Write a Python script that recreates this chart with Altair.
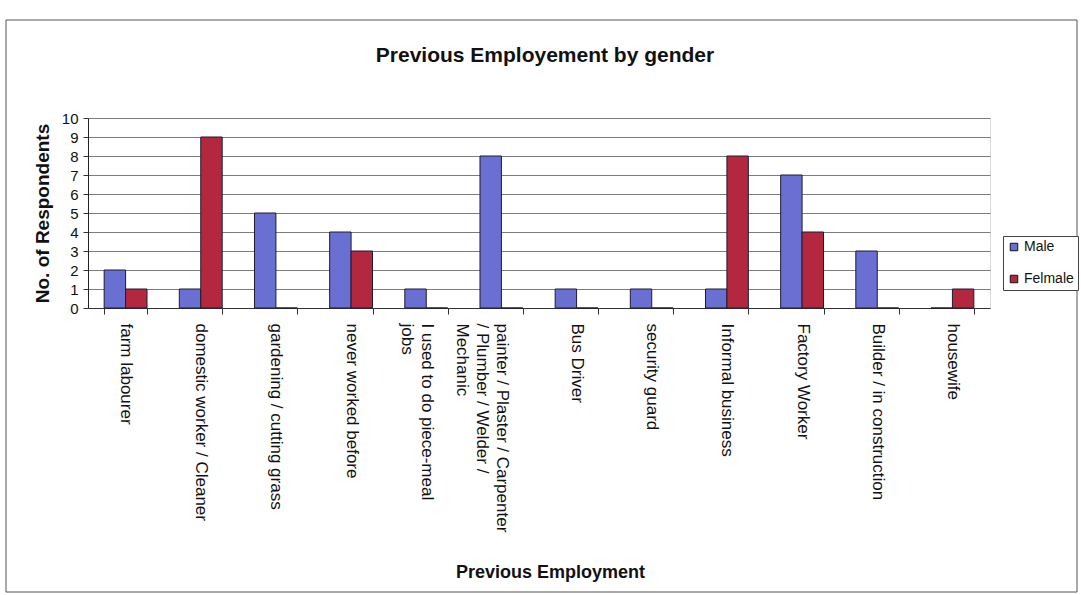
import altair as alt
import pandas as pd

categories = [
    "farm labourer",
    "domestic worker / Cleaner",
    "gardening / cutting grass",
    "never worked before",
    "I used to do piece-meal|jobs",
    "painter / Plaster / Carpenter|/ Plumber / Welder /|Mechanic",
    "Bus Driver",
    "security guard",
    "Informal business",
    "Factory Worker",
    "Builder / in construction",
    "housewife",
]
series = ["Male", "Felmale"]
male = [2, 1, 5, 4, 1, 8, 1, 1, 1, 7, 3, 0]
female = [1, 9, 0, 3, 0, 0, 0, 0, 8, 4, 0, 1]
y_ticks = list(range(0, 11))
title_text = "Previous Employement by gender"

colors = ["#6a6fd2", "#b3283f"]
FONT = "Liberation Sans"

rows = []
for c, m, f in zip(categories, male, female):
    rows.append({"category": c, "gender": "Male", "count": m})
    rows.append({"category": c, "gender": "Felmale", "count": f})
df = pd.DataFrame(rows)
one = pd.DataFrame({"k": [0]})

frame = alt.Chart(one).mark_rect(
    fillOpacity=0, stroke="#555555", strokeWidth=1
).encode(
    x=alt.value(-82), x2=alt.value(989), y=alt.value(-98), y2=alt.value(474)
)

title = alt.Chart(one).mark_text(
    font=FONT, fontSize=21, fontWeight="bold", color="#111111",
    align="center", baseline="alphabetic"
).encode(
    x=alt.value(457), y=alt.value(-56), text=alt.value(title_text)
)

bars = alt.Chart(df).mark_bar(stroke="#1c1c30", strokeWidth=1).encode(
    x=alt.X(
        "category:N",
        sort=categories,
        scale=alt.Scale(paddingInner=0.43, paddingOuter=0.215),
        axis=alt.Axis(
            title="Previous Employment",
            labelAngle=90,
            labelAlign="left",
            labelBaseline="middle",
            labelExpr="split(datum.label, '|')",
            labelFontSize=17,
            labelLineHeight=20,
            labelPadding=9,
            labelLimit=500,
            labelOverlap=False,
            labelColor="#111111",
            labelFont=FONT,
            tickSize=6,
            tickBand="extent",
            tickColor="#333333",
            domainColor="#333333",
            grid=False,
            titleFontSize=18,
            titleFontWeight="bold",
            titleFont=FONT,
            titleColor="#111111",
            titleX=462,
            titleY=264,
            titleBaseline="middle",
        ),
    ),
    xOffset=alt.XOffset(
        "gender:N", sort=series, scale=alt.Scale(paddingInner=0, paddingOuter=0)
    ),
    y=alt.Y(
        "count:Q",
        scale=alt.Scale(domain=[0, 10], nice=False),
        axis=alt.Axis(
            values=y_ticks,
            title="No. of Respondents",
            labelFontSize=15,
            labelFont=FONT,
            labelColor="#111111",
            labelPadding=5,
            tickSize=5,
            tickColor="#333333",
            domainColor="#222222",
            gridColor="#7c7c7c",
            gridWidth=1,
            titleFontSize=19,
            titleFontWeight="bold",
            titleFont=FONT,
            titleColor="#111111",
            titleX=-36,
            titleY=95,
        ),
    ),
    color=alt.Color(
        "gender:N",
        sort=series,
        scale=alt.Scale(domain=series, range=colors),
        legend=alt.Legend(
            title=None,
            orient="none",
            legendX=915,
            legendY=118,
            strokeColor="#444444",
            fillColor="white",
            padding=4,
            symbolType="square",
            symbolSize=56,
            symbolStrokeColor="#111111",
            symbolStrokeWidth=1,
            labelFontSize=14,
            labelFont=FONT,
            labelColor="#111111",
            labelOffset=3,
            rowPadding=18,
        ),
    ),
)

chart = alt.layer(frame, title, bars).properties(
    width=902,
    height=190,
    padding={"left": 88, "top": 118, "right": 91, "bottom": 287},
    autosize=alt.AutoSizeParams(type="none"),
).configure_view(
    fill="#c0c0c0", stroke="#444444", strokeWidth=1
).configure(background="white")

chart.save("out.html", embed_options={"renderer": "svg", "actions": False})
